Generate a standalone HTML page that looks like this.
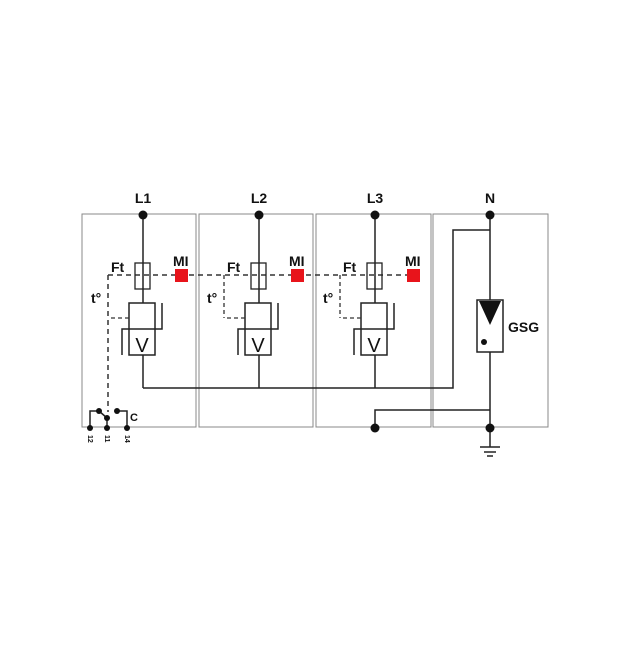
<!DOCTYPE html>
<html><head><style>body{margin:0;background:#fff}</style></head><body>
<svg width="640" height="640" viewBox="0 0 640 640" xmlns="http://www.w3.org/2000/svg" font-family="Liberation Sans, sans-serif" font-weight="bold">
<g fill="none" stroke="#888" stroke-width="1">
<rect x="82" y="214" width="114" height="213"/>
<rect x="199" y="214" width="114" height="213"/>
<rect x="316" y="214" width="115" height="213"/>
<rect x="433" y="214" width="115" height="213"/>
</g>
<g stroke="#222" stroke-width="1.5" fill="none">
<!-- dashed -->
<line x1="108" y1="275" x2="420" y2="275" stroke-dasharray="5,4" stroke="#333"/>
<line x1="108" y1="275" x2="108" y2="412" stroke-dasharray="5,4" stroke="#333"/>
<!-- wires -->
<polyline points="143,388 453,388 453,230 490,230"/>
<polyline points="375,428 375,410 490,410"/>
<line x1="490" y1="215" x2="490" y2="447"/>
<line x1="480" y1="447" x2="500" y2="447"/>
<line x1="484" y1="452" x2="496" y2="452"/>
<line x1="487" y1="456" x2="493" y2="456"/>
<rect x="477" y="300" width="26" height="52" fill="#fff"/>
<!-- contacts -->
<polyline points="90,428 90,411 99,411"/>
<line x1="99" y1="411" x2="107" y2="418"/>
<line x1="107" y1="418" x2="107" y2="428"/>
<polyline points="117,411 127,411 127,428"/>
</g>
<polygon points="479,301 501,301 490,325" fill="#111"/>
<circle cx="484" cy="342" r="3" fill="#111"/>
<g fill="#111">
<circle cx="490" cy="215" r="4.5"/><circle cx="490" cy="428" r="4.5"/><circle cx="375" cy="428" r="4.5"/>
<circle cx="90" cy="428" r="3"/><circle cx="107" cy="428" r="3"/><circle cx="127" cy="428" r="3"/>
<circle cx="99" cy="411" r="3"/><circle cx="107" cy="418" r="3"/><circle cx="117" cy="411" r="3"/>
</g>
<g font-size="7" fill="#111">
<text transform="translate(88,435) rotate(90)">12</text>
<text transform="translate(105,435) rotate(90)">11</text>
<text transform="translate(125,435) rotate(90)">14</text>
</g>
<text x="130" y="421" font-size="11" fill="#111">C</text>
<text x="490" y="203" font-size="14" text-anchor="middle" fill="#111">N</text>
<text x="508" y="332" font-size="14" fill="#111">GSG</text>
<g id="ph">
<line x1="143" y1="215" x2="143" y2="388" stroke="#222" stroke-width="1.5"/>
<circle cx="143" cy="215" r="4.5" fill="#111"/>
<rect x="135" y="263" width="15" height="26" fill="none" stroke="#222" stroke-width="1.3"/>
<rect x="175" y="269" width="13" height="13" fill="#e8141b"/>
<rect x="129" y="303" width="26" height="52" fill="#fff" stroke="#222" stroke-width="1.5"/>
<polyline points="162,303 162,329 122,329 122,355" fill="none" stroke="#222" stroke-width="1.5"/>
<line x1="129" y1="318" x2="110" y2="318" stroke="#333" stroke-width="1.3" stroke-dasharray="4,3"/>
<text x="142" y="352" font-size="20" font-weight="normal" text-anchor="middle" fill="#111">V</text>
<text x="111" y="272" font-size="14" fill="#111">Ft</text>
<text x="173" y="266" font-size="14" fill="#111">MI</text>
<text x="91" y="303" font-size="14" fill="#111">t°</text>
</g>
<use href="#ph" x="116"/>
<use href="#ph" x="232"/>
<line x1="224" y1="275" x2="224" y2="318" stroke="#333" stroke-width="1.3" stroke-dasharray="4,3"/>
<line x1="340" y1="275" x2="340" y2="318" stroke="#333" stroke-width="1.3" stroke-dasharray="4,3"/>
<text x="143" y="203" font-size="14" text-anchor="middle" fill="#111">L1</text>
<text x="259" y="203" font-size="14" text-anchor="middle" fill="#111">L2</text>
<text x="375" y="203" font-size="14" text-anchor="middle" fill="#111">L3</text>
</svg>
</body></html>
